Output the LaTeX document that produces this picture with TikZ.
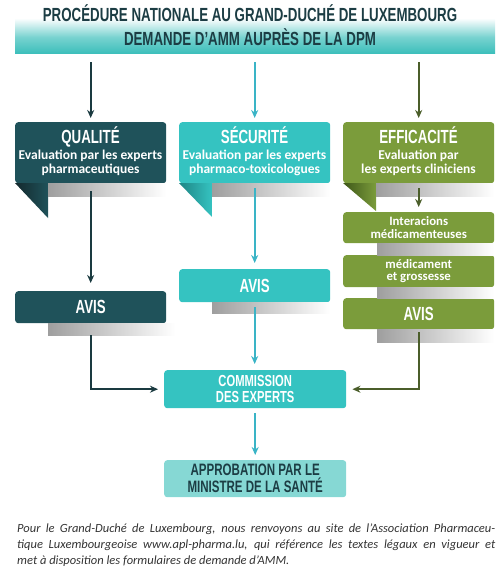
\documentclass[tikz,border=0pt]{standalone}
\usepackage{fontspec}
\setmainfont{Carlito}
\newfontfamily\cond[FakeStretch=0.70]{Liberation Sans}
\usetikzlibrary{arrows.meta}
\definecolor{hdrteal}{HTML}{3DBFBB}
\definecolor{hdrtext}{HTML}{1C3D44}
\definecolor{qdark}{HTML}{1F525A}
\definecolor{qflap}{HTML}{14292D}
\definecolor{steal}{HTML}{35C3C1}
\definecolor{sflap}{HTML}{1E8584}
\definecolor{egreen}{HTML}{7B9C3B}
\definecolor{eflap}{HTML}{3E5719}
\definecolor{qarrow}{HTML}{1A3A40}
\definecolor{sarrow}{HTML}{3AB4C6}
\definecolor{earrow}{HTML}{4B5E2A}
\definecolor{appro}{HTML}{86D8D4}
\definecolor{footgray}{HTML}{333333}
\pgfdeclareverticalshading{hdrshade}{100bp}{color(0bp)=(hdrteal); color(25bp)=(hdrteal); color(40bp)=(hdrteal!70!white); color(58bp)=(white); color(100bp)=(white)}
\begin{document}
\begin{tikzpicture}[x=1pt,y=-1pt,
  box/.style={anchor=north west, minimum width=151pt, inner sep=0pt, rounded corners=3pt, text=white, align=center},
  ttl/.style={font=\cond\bfseries\fontsize{19}{20}\selectfont, text=white, anchor=base, inner sep=0pt},
  subt/.style={font=\bfseries\fontsize{13.5}{13.5}\selectfont, text=white, align=center, anchor=north, inner sep=0pt},
  small/.style={font=\bfseries\fontsize{12.8}{12.5}\selectfont},
  avis/.style={font=\cond\bfseries\fontsize{19}{20}\selectfont},
  conn/.style={line width=2pt, -{Stealth[length=8pt,width=7pt,inset=2.5pt]}},
  shadowbar/.style={left color=black!38, right color=white}
]
\useasboundingbox (0,0) rectangle (502,578);
% header
\node[anchor=north west, minimum width=480pt, minimum height=53pt, inner sep=0pt, shading=hdrshade] (hdr) at (15,0) {};
\node[font=\cond\bfseries\fontsize{19}{24}\selectfont, text=hdrtext, align=center, inner sep=0pt] (hdrtxt) at (250,25) {PROCÉDURE NATIONALE AU GRAND-DUCHÉ DE LUXEMBOURG\\DEMANDE D’AMM AUPRÈS DE LA DPM};

% column boxes
\node[box, fill=qdark, minimum height=61pt] (q) at (15,122) {};
\node[box, fill=steal, minimum height=61pt] (s) at (179,122) {};
\node[box, fill=egreen, minimum height=61pt] (e) at (343,122) {};
\node[ttl] (qt) at (90.5,143) {QUALITÉ};
\node[ttl] (st) at (254.5,143) {SÉCURITÉ};
\node[ttl] (et) at (418.5,143) {EFFICACITÉ};
\node[subt] (qs) at (90.5,150) {Evaluation par les experts\\pharmaceutiques};
\node[subt] (ss) at (254.5,150) {Evaluation par les experts\\pharmaco-toxicologues};
\node[subt] (es) at (418.5,150) {Evaluation par\\les experts cliniciens};

% flaps and shadows of the column boxes
\shade[left color=qflap, right color=qdark] (15,183) -- (48,183) -- (48,218) -- cycle;
\shade[left color=sflap, right color=steal] (179,183) -- (212,183) -- (212,217) -- cycle;
\shade[left color=eflap, right color=egreen] (343,183) -- (376,183) -- (376,211) -- cycle;
\shade[shadowbar] (48,183) rectangle (166,196);
\shade[shadowbar] (212,183) rectangle (330,196);
\shade[shadowbar] (376,183) rectangle (494,196);

% second level boxes
\node[box, fill=qdark, minimum height=32pt, avis] (qa) at (15,291) {AVIS};
\node[box, fill=steal, minimum height=33pt, avis] (sa) at (179,269) {AVIS};
\node[box, fill=egreen, minimum height=31pt, small] (ei) at (343,212) {Interacions\\médicamenteuses};
\node[box, fill=egreen, minimum height=32pt, small] (em) at (343,255) {médicament\\et grossesse};
\node[box, fill=egreen, minimum height=31pt, avis] (ea) at (343,298) {AVIS};
\shade[shadowbar] (48,323) rectangle (175,335);
\shade[shadowbar] (212,302) rectangle (330,313);
\shade[shadowbar] (377,243) rectangle (494,255);
\shade[shadowbar] (377,287) rectangle (494,298);
\shade[shadowbar] (377,329) rectangle (494,342);

% commission and approbation
\node[anchor=north west, minimum width=182pt, minimum height=38pt, inner sep=0pt, rounded corners=3pt, fill=steal, text=white, align=center, font=\cond\bfseries\fontsize{16}{16}\selectfont] (cm) at (164,370) {COMMISSION\\DES EXPERTS};
\node[anchor=north west, minimum width=182pt, minimum height=37pt, inner sep=0pt, rounded corners=3pt, fill=appro, text=hdrtext, align=center, font=\cond\bfseries\fontsize{16.5}{17}\selectfont] (ap) at (164,460) {APPROBATION PAR LE\\MINISTRE DE LA SANTÉ};

% connectors
\draw[conn, qarrow, shorten <=9pt, shorten >=4pt] (q.north |- hdr.south) -- (q.north);
\draw[conn, sarrow, shorten <=9pt, shorten >=4pt] (s.north |- hdr.south) -- (s.north);
\draw[conn, earrow, shorten <=9pt, shorten >=4pt] (e.north |- hdr.south) -- (e.north);
\draw[conn, qarrow, shorten <=8pt, shorten >=8pt] (q.south) -- (qa.north);
\draw[conn, sarrow, shorten <=5pt, shorten >=6pt] (s.south) -- (sa.north);
\draw[conn, earrow, shorten <=5pt, shorten >=5pt] (e.south) -- (ei.north);
\draw[conn, qarrow, shorten <=12pt, shorten >=6pt] (qa.south) |- (cm.west);
\draw[conn, sarrow, shorten <=5pt, shorten >=6pt] (sa.south) -- (sa.south |- cm.north);
\draw[conn, earrow, shorten <=3pt, shorten >=6pt] (ea.south) |- (cm.east);
\draw[conn, sarrow, shorten <=5pt, shorten >=5pt] (cm.south) -- (ap.north);

% footnote
\node[anchor=north west, inner sep=0pt, align=left, text=footgray, font=\itshape\fontsize{12.5}{16}\selectfont] (fn) at (17,523.5) {\makebox[478pt][s]{Pour le Grand-Duché de Luxembourg, nous renvoyons au site de l’Association Pharmaceu-}\\\makebox[478pt][s]{tique Luxembourgeoise www.apl-pharma.lu, qui référence les textes légaux en vigueur et}\\met à disposition les formulaires de demande d’AMM.};
\end{tikzpicture}
\end{document}
